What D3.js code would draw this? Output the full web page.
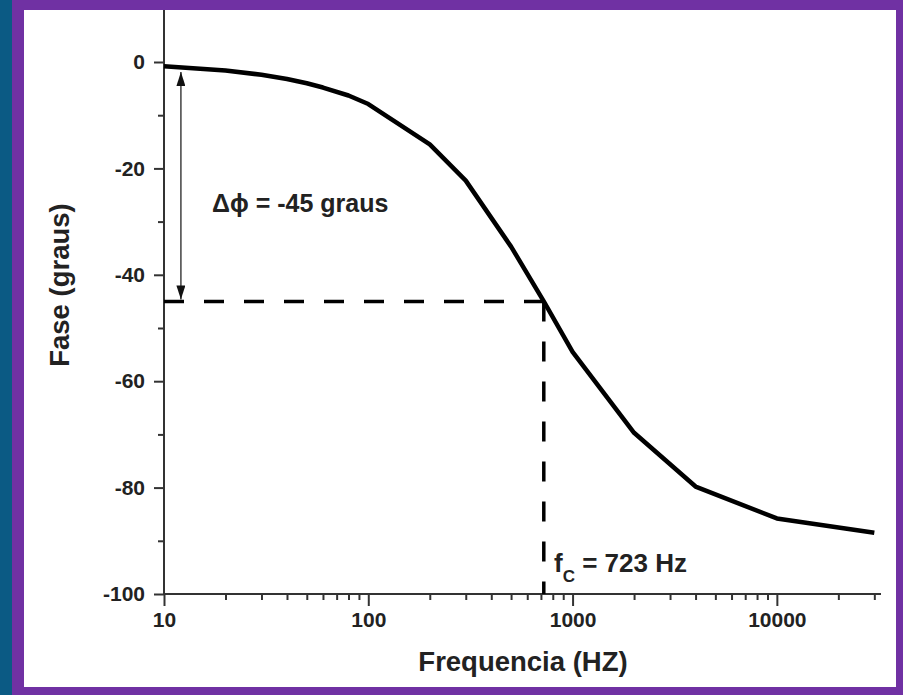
<!DOCTYPE html>
<html>
<head>
<meta charset="utf-8">
<script src="https://cdn.jsdelivr.net/npm/d3@7"></script>
<style>
  html, body { margin: 0; padding: 0; background: #ffffff; }
  svg { display: block; }
  text { font-family: "Liberation Sans", Arial, Helvetica, sans-serif; font-weight: bold; fill: #222; }
</style>
</head>
<body>
<svg id="chart" width="903" height="695"></svg>
<script>
// ---- data ----
const frequencies = [10, 20, 30, 40, 50, 60, 80, 100, 200, 300, 500, 723, 1000, 2000, 4000, 10000, 30000];
const phases = [-0.8, -1.6, -2.4, -3.2, -4.0, -4.8, -6.3, -7.9, -15.5, -22.3, -34.7, -45, -54.5, -69.7, -79.8, -85.8, -88.5];
const xMajorTicks = [10, 100, 1000, 10000];
const xTickLabels = ["10", "100", "1000", "10000"];
const xMinorTicks = [20,30,40,50,60,70,80,90,200,300,400,500,600,700,800,900,2000,3000,4000,5000,6000,7000,8000,9000,20000,30000];
const yMajorTicks = [0, -20, -40, -60, -80, -100];
const yTickLabels = ["0", "-20", "-40", "-60", "-80", "-100"];
const yMinorTicks = [-10, -30, -50, -70, -90];
const cutoffFreq = 723;
const cutoffPhase = -45;
const arrowFreq = 12.1;
const arrowTopPhase = -1.9;
const xTitle = "Frequencia (HZ)";
const yTitle = "Fase (graus)";
const deltaLabel = "Δϕ = -45 graus";

const svg = d3.select("#chart");

// frame
svg.append("rect").attr("x", 0).attr("y", 0).attr("width", 903).attr("height", 695).attr("fill", "#0b5a84");
svg.append("rect").attr("x", 12).attr("y", 0).attr("width", 891).attr("height", 695).attr("fill", "#7031a3");
svg.append("rect").attr("x", 24).attr("y", 10).attr("width", 872).attr("height", 677).attr("fill", "#ffffff");

// scales
const x = d3.scaleLog().domain([10, Math.pow(10, 4.5)]).range([164, 879]);
const y = d3.scaleLinear().domain([-100, 10]).range([594, 8.8]);

const g = svg.append("g");
const axisColor = "#333";

// y axis
g.append("line").attr("x1", x(10)).attr("x2", x(10)).attr("y1", 10).attr("y2", y(-100))
  .attr("stroke", axisColor).attr("stroke-width", 2);
const yAxis = d3.axisLeft(y).tickValues(yMajorTicks).tickSize(10).tickPadding(9)
  .tickFormat((d, i) => yTickLabels[i]);
const yAx = g.append("g").attr("transform", `translate(${x(10)},0)`).call(yAxis);
yAx.select(".domain").remove();
yAx.selectAll(".tick line").attr("stroke", axisColor).attr("stroke-width", 2);
yAx.selectAll(".tick text").attr("font-size", 21).attr("font-family", null).attr("fill", "#222");
const yMinor = d3.axisLeft(y).tickValues(yMinorTicks).tickSize(6).tickFormat("");
const yMin = g.append("g").attr("transform", `translate(${x(10)},0)`).call(yMinor);
yMin.select(".domain").remove();
yMin.selectAll(".tick line").attr("stroke", axisColor).attr("stroke-width", 2);

// x axis
g.append("line").attr("x1", x(10)).attr("x2", 881).attr("y1", y(-100)).attr("y2", y(-100))
  .attr("stroke", axisColor).attr("stroke-width", 2);
const xAxis = d3.axisBottom(x).tickValues(xMajorTicks).tickSize(12).tickPadding(6)
  .tickFormat((d, i) => xTickLabels[i]);
const xAx = g.append("g").attr("transform", `translate(0,${y(-100)})`).call(xAxis);
xAx.select(".domain").remove();
xAx.selectAll(".tick line").attr("stroke", axisColor).attr("stroke-width", 2);
xAx.selectAll(".tick text").attr("font-size", 21).attr("font-family", null).attr("fill", "#222");
const xMinor = d3.axisBottom(x).tickValues(xMinorTicks).tickSize(6).tickFormat("");
const xMin = g.append("g").attr("transform", `translate(0,${y(-100)})`).call(xMinor);
xMin.select(".domain").remove();
xMin.selectAll(".tick line").attr("stroke", axisColor).attr("stroke-width", 2);

// dashed guides
g.append("line").attr("x1", x(10)).attr("x2", x(cutoffFreq)).attr("y1", y(cutoffPhase)).attr("y2", y(cutoffPhase))
  .attr("stroke", "#000").attr("stroke-width", 3.5).attr("stroke-dasharray", "20,20");
g.append("line").attr("x1", x(cutoffFreq)).attr("x2", x(cutoffFreq)).attr("y1", y(cutoffPhase)).attr("y2", y(-100))
  .attr("stroke", "#000").attr("stroke-width", 3.5).attr("stroke-dasharray", "20,20");

// curve
const pts = frequencies.map((f, i) => [f, phases[i]]);
g.append("path").datum(pts)
  .attr("d", d3.line().x(d => x(d[0])).y(d => y(d[1])))
  .attr("fill", "none").attr("stroke", "#000").attr("stroke-width", 4.5).attr("stroke-linejoin", "round");

// double arrow
const defs = svg.append("defs");
defs.append("marker").attr("id", "arrow").attr("viewBox", "0 0 10 10").attr("refX", 10).attr("refY", 5)
  .attr("markerUnits", "userSpaceOnUse").attr("markerWidth", 14).attr("markerHeight", 9)
  .attr("orient", "auto-start-reverse").attr("preserveAspectRatio", "none")
  .append("path").attr("d", "M0,0 L10,5 L0,10 Z").attr("fill", "#111");
g.append("line").attr("x1", x(arrowFreq)).attr("x2", x(arrowFreq))
  .attr("y1", y(arrowTopPhase)).attr("y2", y(cutoffPhase) - 2)
  .attr("stroke", "#333").attr("stroke-width", 1.4)
  .attr("marker-start", "url(#arrow)").attr("marker-end", "url(#arrow)");

// annotations
svg.append("text").attr("x", 212).attr("y", 212).attr("font-size", 25).text(deltaLabel);
const fc = svg.append("text").attr("x", 554).attr("y", 572).attr("font-size", 26);
fc.append("tspan").text("f");
fc.append("tspan").attr("font-size", 17).attr("dy", 10).text("C");
fc.append("tspan").attr("dy", -10).text(" = 723 Hz");

// axis titles
svg.append("text").attr("x", 523).attr("y", 671).attr("text-anchor", "middle").attr("font-size", 27.5).text(xTitle);
svg.append("text").attr("transform", "translate(69,285) rotate(-90)").attr("text-anchor", "middle")
  .attr("font-size", 27.5).text(yTitle);
</script>
</body>
</html>
